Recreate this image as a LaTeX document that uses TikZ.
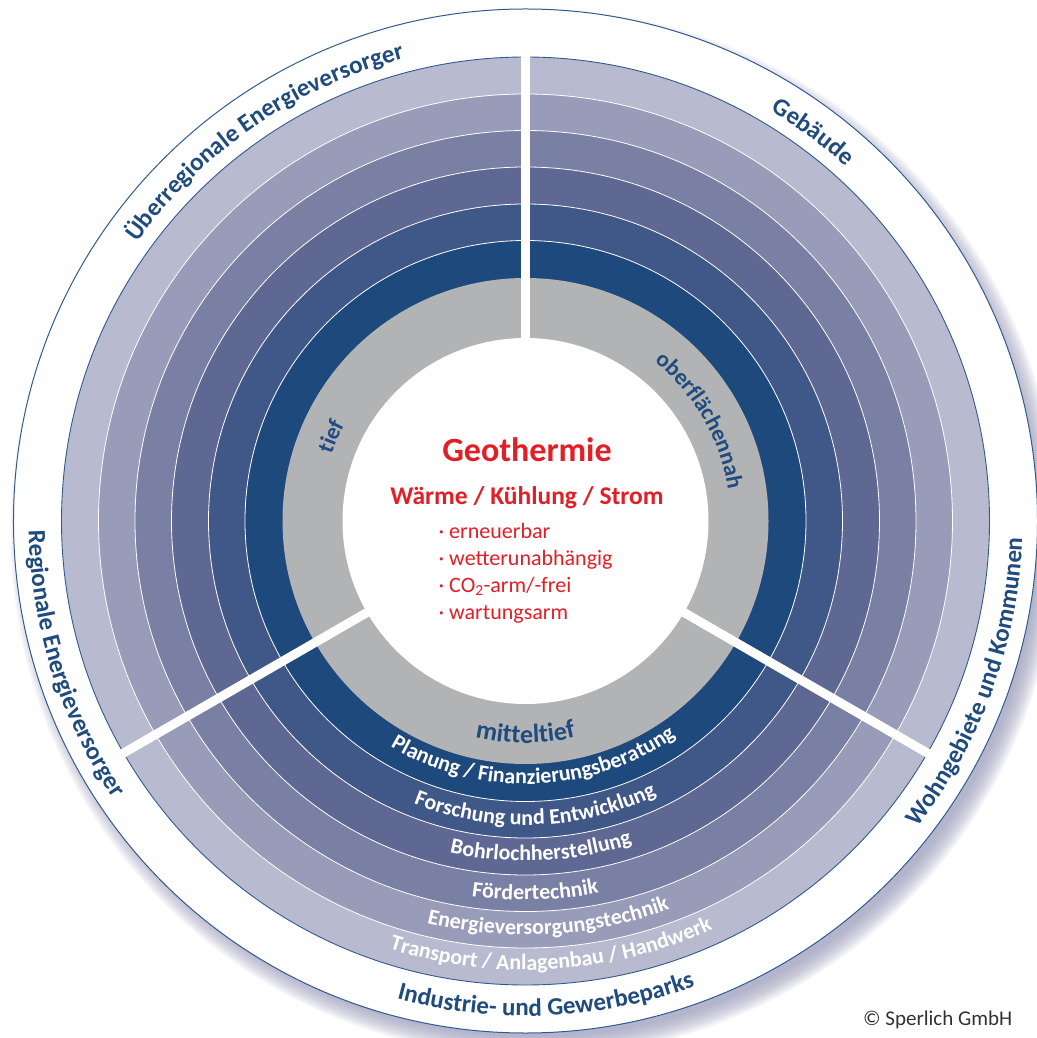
\documentclass[tikz,border=0pt]{standalone}
\usepackage{fontspec}
\setmainfont{Carlito}
\usetikzlibrary{decorations.text}
\definecolor{bandA}{RGB}{30,73,124}
\definecolor{bandB}{RGB}{64,88,136}
\definecolor{bandC}{RGB}{94,104,146}
\definecolor{bandD}{RGB}{122,128,164}
\definecolor{bandE}{RGB}{152,156,184}
\definecolor{bandF}{RGB}{184,187,207}
\definecolor{ringgray}{RGB}{178,179,181}
\definecolor{tblue}{RGB}{31,75,127}
\definecolor{lineblue}{RGB}{47,91,143}
\definecolor{geored}{RGB}{226,30,38}
\definecolor{shadowc}{RGB}{150,150,185}
\definecolor{footgray}{RGB}{50,50,50}
\tikzset{
  band/.style={fill=#1},
  sepline/.style={white, line width=9pt},
  thinsep/.style={white, line width=0.8pt},
  arclabel/.style={decorate, decoration={text along path, text align=center, text={#1}}},
  centertext/.style={text=geored, inner sep=0pt},
}
\newcommand{\OuterFont}{\fontsize{25pt}{25pt}\selectfont\bfseries\color{tblue}}
\newcommand{\RingFont}{\fontsize{23pt}{23pt}\selectfont\bfseries\color{tblue}}
\newcommand{\MidFont}{\fontsize{26pt}{26pt}\selectfont\bfseries\color{tblue}}
\newcommand{\BandFont}{\fontsize{22pt}{22pt}\selectfont\bfseries\color{white}}
\begin{document}
\begin{tikzpicture}
\useasboundingbox (-525.5pt,-517pt) rectangle (510.5pt,521pt);
\fill[white] (-525.5pt,-517pt) rectangle (510.5pt,521pt);
% drop shadow
\foreach \i in {0,...,11} {
  \fill[shadowc, opacity=0.09] (9pt,-12pt) circle[radius={504pt+\i*1.8pt}];
}
% outer white disk with thin border
\fill[white] (0,0) circle[radius=512pt];
\draw[lineblue, line width=1pt] (0,0) circle[radius=512pt];
% bands
\fill[band=bandF] (0,0) circle[radius=464pt];
\fill[band=bandE] (0,0) circle[radius=427pt];
\fill[band=bandD] (0,0) circle[radius=390.5pt];
\fill[band=bandC] (0,0) circle[radius=354pt];
\fill[band=bandB] (0,0) circle[radius=317pt];
\fill[band=bandA] (0,0) circle[radius=280.5pt];
\fill[ringgray] (0,0) circle[radius=243pt];
\fill[white] (0,0) circle[radius=183pt];
\draw[lineblue, line width=0.9pt] (0,0) circle[radius=464pt];
\foreach \r in {280.5,317,354,390.5,427} {
  \draw[thinsep] (0,0) circle[radius=\r pt];
}
% separators
\draw[sepline] (90:180pt) -- (90:466pt);
\draw[sepline] (210:180pt) -- (210:466pt);
\draw[sepline] (330:180pt) -- (330:466pt);
% outer labels
\path[arclabel={|\OuterFont|Überregionale Energieversorger}] (169.5:478pt) arc[start angle=169.5, end angle=79.5, radius=478pt];
\path[arclabel={|\OuterFont|Gebäude}] (80:478pt) arc[start angle=80, end angle=27, radius=478pt];
\path[arclabel={|\OuterFont|Wohngebiete und Kommunen}] (-60:497pt) arc[start angle=-60, end angle=20, radius=497pt];
\path[arclabel={|\OuterFont|Regionale Energieversorger}] (160:497pt) arc[start angle=160, end angle=235, radius=497pt];
\path[arclabel={|\OuterFont|Industrie- und Gewerbeparks}] (225:495pt) arc[start angle=225, end angle=320, radius=495pt];
% ring labels
\path[arclabel={|\RingFont|tief}] (185:205pt) arc[start angle=185, end angle=128, radius=205pt];
\path[arclabel={|\RingFont|oberflächennah}] (75:205pt) arc[start angle=75, end angle=-15, radius=205pt];
\path[arclabel={|\MidFont|mitteltief}] (240:222pt) arc[start angle=240, end angle=300, radius=222pt];
% band labels
\path[arclabel={|\BandFont|Planung / Finanzierungsberatung}] (212:263pt) arc[start angle=212, end angle=332, radius=263pt];
\path[arclabel={|\BandFont|Forschung und Entwicklung}] (222:304pt) arc[start angle=222, end angle=322, radius=304pt];
\path[arclabel={|\BandFont|Bohrlochherstellung}] (232.7:340pt) arc[start angle=232.7, end angle=312.7, radius=340pt];
\path[arclabel={|\BandFont|Fördertechnik}] (241.5:379pt) arc[start angle=241.5, end angle=301.5, radius=379pt];
\path[arclabel={|\BandFont|Energieversorgungstechnik}] (233.3:414pt) arc[start angle=233.3, end angle=313.3, radius=414pt];
\path[arclabel={|\BandFont|Transport / Anlagenbau / Handwerk}] (233.5:449pt) arc[start angle=233.5, end angle=313.5, radius=449pt];
% faint watermark
\path[arclabel={|\fontsize{9pt}{9pt}\selectfont\color{black!22}|© Sperlich GmbH}] (-80:530pt) arc[start angle=-80, end angle=-43, radius=530pt];
% center texts
\node[centertext, anchor=base, font=\fontsize{34pt}{34pt}\selectfont\bfseries] (geo) at (1.5pt,59pt) {Geothermie};
\node[centertext, anchor=base, font=\fontsize{25.5pt}{25.5pt}\selectfont\bfseries] (use) at (1.5pt,16pt) {Wärme / Kühlung / Strom};
\node[centertext, anchor=base west, font=\fontsize{22pt}{22pt}\selectfont] (b1) at (-87pt,-18pt) {· erneuerbar};
\node[centertext, anchor=base west, font=\fontsize{22pt}{22pt}\selectfont] (b2) at (-87pt,-45pt) {· wetterunabhängig};
\node[centertext, anchor=base west, font=\fontsize{22pt}{22pt}\selectfont] (b3) at (-87pt,-71pt) {· CO\textsubscript{2}-arm/-frei};
\node[centertext, anchor=base west, font=\fontsize{22pt}{22pt}\selectfont] (b4) at (-87pt,-98pt) {· wartungsarm};
% footer
\node[anchor=base east, inner sep=0pt, text=footgray, font=\fontsize{21pt}{21pt}\selectfont] (copy) at (487pt,-504pt) {© Sperlich GmbH};
\end{tikzpicture}
\end{document}
